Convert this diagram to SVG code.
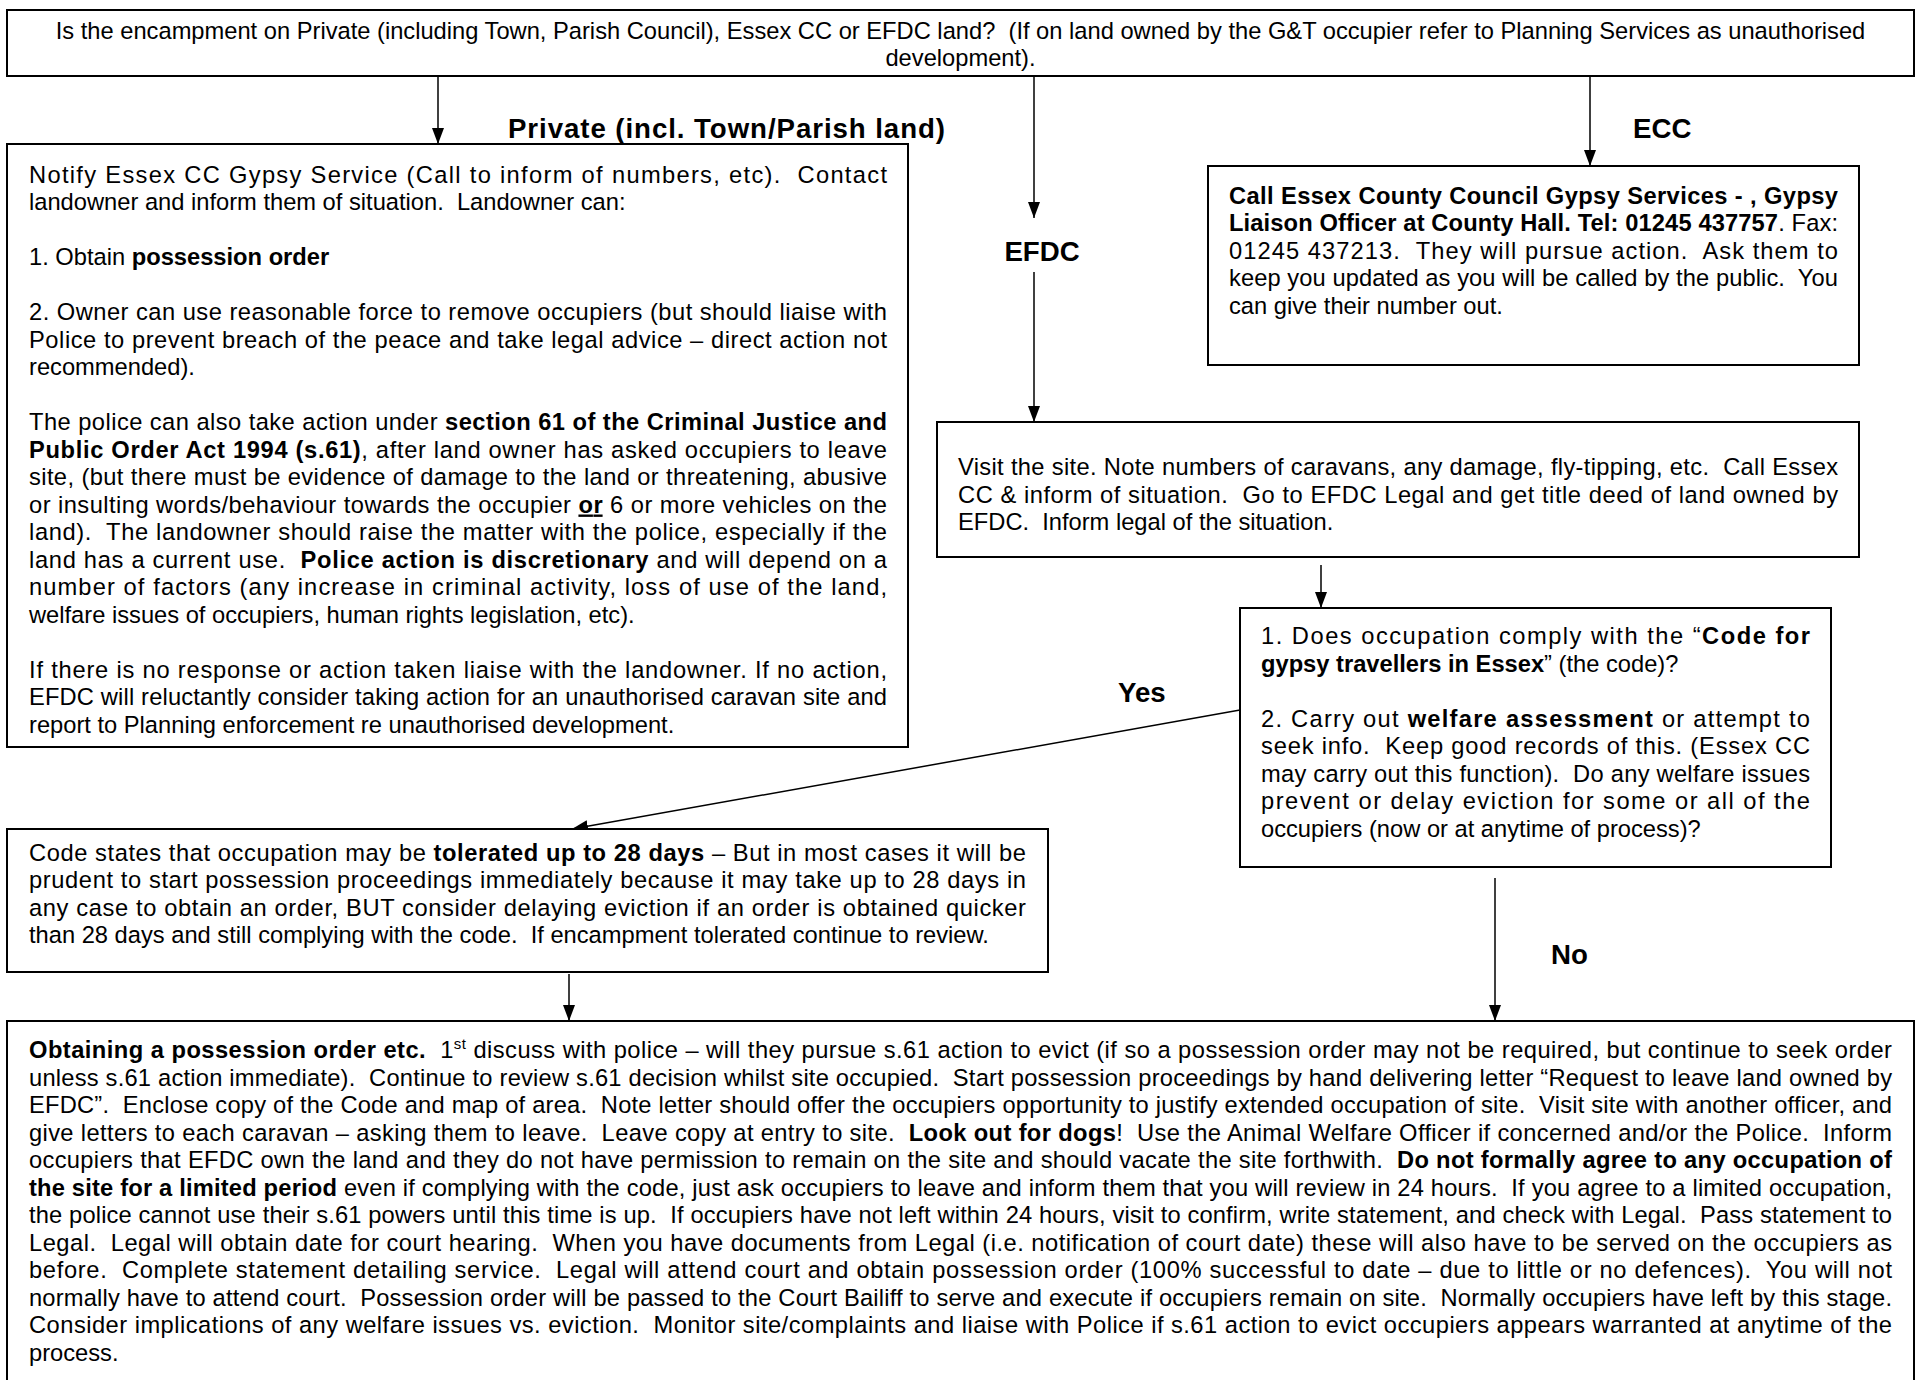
<svg xmlns="http://www.w3.org/2000/svg" width="1918" height="1380" viewBox="0 0 1918 1380">
<defs>
<style>
.box{fill:#fff;stroke:#000;stroke-width:2}
.t{font-family:"Liberation Sans",Arial,sans-serif;font-size:23.7px;fill:#000}
.b{font-weight:bold}
.lbl{font-family:"Liberation Sans",Arial,sans-serif;font-size:27.65px;font-weight:bold;fill:#000}
.c{fill:none;stroke:#000;stroke-width:1.5}
</style>
<marker id="ah" viewBox="0 0 16 12" refX="16" refY="6" markerWidth="16" markerHeight="12" orient="auto" markerUnits="userSpaceOnUse"><path d="M0,0 L16,6 L0,12 z" fill="#000"/></marker>
</defs>
<rect width="1918" height="1380" fill="#fff"/>
<g id="connectors">
<line class="c" x1="438" y1="76" x2="438" y2="144" marker-end="url(#ah)"/>
<line class="c" x1="1034" y1="76" x2="1034" y2="218" marker-end="url(#ah)"/>
<line class="c" x1="1034" y1="272" x2="1034" y2="422" marker-end="url(#ah)"/>
<line class="c" x1="1590" y1="76" x2="1590" y2="166" marker-end="url(#ah)"/>
<line class="c" x1="1321" y1="565" x2="1321" y2="608" marker-end="url(#ah)"/>
<line class="c" x1="1240" y1="710" x2="572" y2="829" stroke-width="2.2" marker-end="url(#ah)"/>
<line class="c" x1="569" y1="974" x2="569" y2="1021" marker-end="url(#ah)"/>
<line class="c" x1="1495" y1="878" x2="1495" y2="1021" marker-end="url(#ah)"/>
<text class="lbl" x="508" y="138" textLength="437" lengthAdjust="spacing">Private (incl. Town/Parish land)</text>
<text class="lbl" x="1633" y="138">ECC</text>
<text class="lbl" x="1042" y="261" text-anchor="middle">EFDC</text>
<text class="lbl" x="1118" y="702">Yes</text>
<text class="lbl" x="1551" y="964">No</text>
</g>
<g id="n-question">
<rect class="box" x="7" y="10" width="1907" height="66"/>
<text class="t" x="960.5" y="38.5" text-anchor="middle">Is the encampment on Private (including Town, Parish Council), Essex CC or EFDC land?&#160; (If on land owned by the G&amp;T occupier refer to Planning Services as unauthorised</text>
<text class="t" x="960.5" y="66" text-anchor="middle">development).</text>
</g>
<g id="n-private">
<rect class="box" x="7" y="144" width="901" height="603"/>
<text class="t" x="29" y="182.5" textLength="858" lengthAdjust="spacing">Notify Essex CC Gypsy Service (Call to inform of numbers, etc).&#160; Contact</text>
<text class="t" x="29" y="210">landowner and inform them of situation.&#160; Landowner can:</text>
<text class="t" x="29" y="265">1. Obtain <tspan class="b">possession order</tspan></text>
<text class="t" x="29" y="320" textLength="858" lengthAdjust="spacing">2. Owner can use reasonable force to remove occupiers (but should liaise with</text>
<text class="t" x="29" y="347.5" textLength="858" lengthAdjust="spacing">Police to prevent breach of the peace and take legal advice – direct action not</text>
<text class="t" x="29" y="375">recommended).</text>
<text class="t" x="29" y="430" textLength="858" lengthAdjust="spacing">The police can also take action under <tspan class="b">section 61 of the Criminal Justice and</tspan></text>
<text class="t" x="29" y="457.5" textLength="858" lengthAdjust="spacing"><tspan class="b">Public Order Act 1994 (s.61)</tspan>, after land owner has asked occupiers to leave</text>
<text class="t" x="29" y="485" textLength="858" lengthAdjust="spacing">site, (but there must be evidence of damage to the land or threatening, abusive</text>
<text class="t" x="29" y="512.5" textLength="858" lengthAdjust="spacing">or insulting words/behaviour towards the occupier <tspan class="b" text-decoration="underline">or</tspan> 6 or more vehicles on the</text>
<text class="t" x="29" y="540" textLength="858" lengthAdjust="spacing">land).&#160; The landowner should raise the matter with the police, especially if the</text>
<text class="t" x="29" y="567.5" textLength="858" lengthAdjust="spacing">land has a current use.&#160; <tspan class="b">Police action is discretionary</tspan> and will depend on a</text>
<text class="t" x="29" y="595" textLength="858" lengthAdjust="spacing">number of factors (any increase in criminal activity, loss of use of the land,</text>
<text class="t" x="29" y="622.5">welfare issues of occupiers, human rights legislation, etc).</text>
<text class="t" x="29" y="677.5" textLength="858" lengthAdjust="spacing">If there is no response or action taken liaise with the landowner. If no action,</text>
<text class="t" x="29" y="705" textLength="858" lengthAdjust="spacing">EFDC will reluctantly consider taking action for an unauthorised caravan site and</text>
<text class="t" x="29" y="732.5">report to Planning enforcement re unauthorised development.</text>
</g>
<g id="n-ecc">
<rect class="box" x="1208" y="166" width="651" height="199"/>
<text class="t" x="1229" y="203.5" textLength="609" lengthAdjust="spacing"><tspan class="b">Call Essex County Council Gypsy Services - , Gypsy</tspan></text>
<text class="t" x="1229" y="231" textLength="609" lengthAdjust="spacing"><tspan class="b">Liaison Officer at County Hall. Tel: 01245 437757</tspan>. Fax:</text>
<text class="t" x="1229" y="258.5" textLength="609" lengthAdjust="spacing">01245 437213.&#160; They will pursue action.&#160; Ask them to</text>
<text class="t" x="1229" y="286" textLength="609" lengthAdjust="spacing">keep you updated as you will be called by the public.&#160; You</text>
<text class="t" x="1229" y="313.5">can give their number out.</text>
</g>
<g id="n-visit">
<rect class="box" x="937" y="422" width="922" height="135"/>
<text class="t" x="958" y="475" textLength="880" lengthAdjust="spacing">Visit the site. Note numbers of caravans, any damage, fly-tipping, etc.&#160; Call Essex</text>
<text class="t" x="958" y="502.5" textLength="880" lengthAdjust="spacing">CC &amp; inform of situation.&#160; Go to EFDC Legal and get title deed of land owned by</text>
<text class="t" x="958" y="530">EFDC.&#160; Inform legal of the situation.</text>
</g>
<g id="n-decision">
<rect class="box" x="1240" y="608" width="591" height="259"/>
<text class="t" x="1261" y="644" textLength="549" lengthAdjust="spacing">1. Does occupation comply with the “<tspan class="b">Code for</tspan></text>
<text class="t" x="1261" y="671.5"><tspan class="b">gypsy travellers in Essex</tspan>” (the code)?</text>
<text class="t" x="1261" y="726.5" textLength="549" lengthAdjust="spacing">2. Carry out <tspan class="b">welfare assessment</tspan> or attempt to</text>
<text class="t" x="1261" y="754" textLength="549" lengthAdjust="spacing">seek info.&#160; Keep good records of this. (Essex CC</text>
<text class="t" x="1261" y="781.5" textLength="549" lengthAdjust="spacing">may carry out this function).&#160; Do any welfare issues</text>
<text class="t" x="1261" y="809" textLength="549" lengthAdjust="spacing">prevent or delay eviction for some or all of the</text>
<text class="t" x="1261" y="836.5">occupiers (now or at anytime of process)?</text>
</g>
<g id="n-code">
<rect class="box" x="7" y="829" width="1041" height="143"/>
<text class="t" x="29" y="860.5" textLength="997" lengthAdjust="spacing">Code states that occupation may be <tspan class="b">tolerated up to 28 days</tspan> – But in most cases it will be</text>
<text class="t" x="29" y="888" textLength="997" lengthAdjust="spacing">prudent to start possession proceedings immediately because it may take up to 28 days in</text>
<text class="t" x="29" y="915.5" textLength="997" lengthAdjust="spacing">any case to obtain an order, BUT consider delaying eviction if an order is obtained quicker</text>
<text class="t" x="29" y="943">than 28 days and still complying with the code.&#160; If encampment tolerated continue to review.</text>
</g>
<g id="n-possession">
<rect class="box" x="7" y="1021" width="1907" height="380"/>
<text class="t" x="29" y="1058" textLength="1863" lengthAdjust="spacing"><tspan class="b">Obtaining a possession order etc.</tspan>&#160; 1<tspan dy="-9" font-size="15">st</tspan><tspan dy="9"> discuss with police – will they pursue s.61 action to evict (if so a possession order may not be required, but continue to seek order</tspan></text>
<text class="t" x="29" y="1085.5" textLength="1863" lengthAdjust="spacing">unless s.61 action immediate).&#160; Continue to review s.61 decision whilst site occupied.&#160; Start possession proceedings by hand delivering letter “Request to leave land owned by</text>
<text class="t" x="29" y="1113" textLength="1863" lengthAdjust="spacing">EFDC”.&#160; Enclose copy of the Code and map of area.&#160; Note letter should offer the occupiers opportunity to justify extended occupation of site.&#160; Visit site with another officer, and</text>
<text class="t" x="29" y="1140.5" textLength="1863" lengthAdjust="spacing">give letters to each caravan – asking them to leave.&#160; Leave copy at entry to site.&#160; <tspan class="b">Look out for dogs</tspan>!&#160; Use the Animal Welfare Officer if concerned and/or the Police.&#160; Inform</text>
<text class="t" x="29" y="1168" textLength="1863" lengthAdjust="spacing">occupiers that EFDC own the land and they do not have permission to remain on the site and should vacate the site forthwith.&#160; <tspan class="b">Do not formally agree to any occupation of</tspan></text>
<text class="t" x="29" y="1195.5" textLength="1863" lengthAdjust="spacing"><tspan class="b">the site for a limited period</tspan> even if complying with the code, just ask occupiers to leave and inform them that you will review in 24 hours.&#160; If you agree to a limited occupation,</text>
<text class="t" x="29" y="1223" textLength="1863" lengthAdjust="spacing">the police cannot use their s.61 powers until this time is up.&#160; If occupiers have not left within 24 hours, visit to confirm, write statement, and check with Legal.&#160; Pass statement to</text>
<text class="t" x="29" y="1250.5" textLength="1863" lengthAdjust="spacing">Legal.&#160; Legal will obtain date for court hearing.&#160; When you have documents from Legal (i.e. notification of court date) these will also have to be served on the occupiers as</text>
<text class="t" x="29" y="1278" textLength="1863" lengthAdjust="spacing">before.&#160; Complete statement detailing service.&#160; Legal will attend court and obtain possession order (100% successful to date – due to little or no defences).&#160; You will not</text>
<text class="t" x="29" y="1305.5" textLength="1863" lengthAdjust="spacing">normally have to attend court.&#160; Possession order will be passed to the Court Bailiff to serve and execute if occupiers remain on site.&#160; Normally occupiers have left by this stage.</text>
<text class="t" x="29" y="1333" textLength="1863" lengthAdjust="spacing">Consider implications of any welfare issues vs. eviction.&#160; Monitor site/complaints and liaise with Police if s.61 action to evict occupiers appears warranted at anytime of the</text>
<text class="t" x="29" y="1360.5">process.</text>
</g>
</svg>
